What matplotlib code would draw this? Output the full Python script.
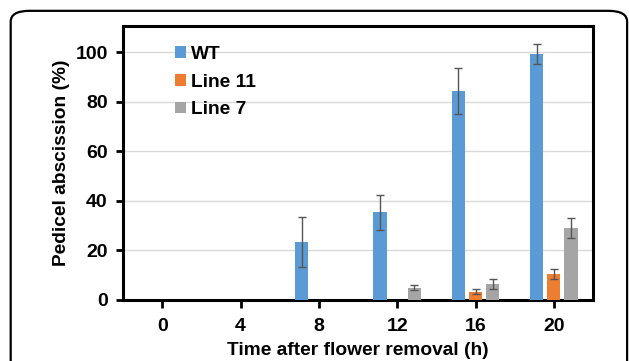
import numpy as np
import matplotlib.pyplot as plt
from matplotlib.patches import FancyBboxPatch

plt.rcParams['font.family'] = ['Liberation Sans', 'DejaVu Sans']
plt.rcParams['font.weight'] = 'bold'

hours = ['0', '4', '8', '12', '16', '20']
wt = [0, 0, 23.4, 35.3, 84.3, 99.2]
wt_err = [0, 0, 10.1, 7.0, 9.1, 4.0]
line11 = [0, 0, 0, 0, 3.4, 10.4]
line11_err = [0, 0, 0, 0, 1.1, 2.0]
line7 = [0, 0, 0, 5.0, 6.4, 28.9]
line7_err = [0, 0, 0, 1.0, 2.0, 4.0]

fig = plt.figure(figsize=(6.29, 3.61), dpi=100, facecolor='white')

# rounded outer frame
frame = FancyBboxPatch((0.017, -0.1), 0.98, 1.07, transform=fig.transFigure,
                       boxstyle='round,pad=0,rounding_size=0.03',
                       facecolor='none', edgecolor='black', linewidth=1.6,
                       clip_on=False)
fig.patches.append(frame)

ax = fig.add_axes([123 / 629, 1 - 300 / 361, (593 - 123) / 629, (300 - 26) / 361])

x = np.arange(len(hours))
w = 0.17
off = 0.22
series = [(wt, wt_err, '#5B9BD5', 'WT', -off),
          (line11, line11_err, '#ED7D31', 'Line 11', 0),
          (line7, line7_err, '#A5A5A5', 'Line 7', off)]
for vals, errs, col, lab, dx in series:
    ax.bar(x + dx, vals, w, color=col, label=lab, zorder=3)
    vals = np.array(vals)
    errs = np.array(errs)
    m = vals > 0
    ax.errorbar(x[m] + dx, vals[m], yerr=errs[m], fmt='none', ecolor='#555555',
                elinewidth=1, capsize=3, capthick=1, zorder=4)

ax.set_xlim(-0.5, 5.5)
ax.set_ylim(0, 110.5)
ax.set_yticks([0, 20, 40, 60, 80, 100])
ax.set_xticks(x)
ax.set_xticklabels(hours)
ax.yaxis.grid(True, color='#D9D9D9', linewidth=1, zorder=0)
ax.set_axisbelow(True)

for s in ax.spines.values():
    s.set_linewidth(2.2)
    s.set_color('black')

ax.tick_params(axis='y', labelsize=14, width=2, length=5, color='black', pad=6)
ax.tick_params(axis='x', labelsize=14, width=2, length=6, color='black', pad=7)
ax.set_ylabel('Pedicel abscission (%)', fontsize=13.8, fontweight='bold', labelpad=4)
ax.set_xlabel('Time after flower removal (h)', fontsize=13.8, fontweight='bold', labelpad=5)

ax.legend(loc='upper left', bbox_to_anchor=(0.095, 0.955), frameon=False,
          fontsize=13.8, handlelength=0.55, handleheight=0.55, handletextpad=0.25,
          labelspacing=0.56, borderaxespad=0)

fig.savefig('out.png', dpi=100, facecolor='white')
